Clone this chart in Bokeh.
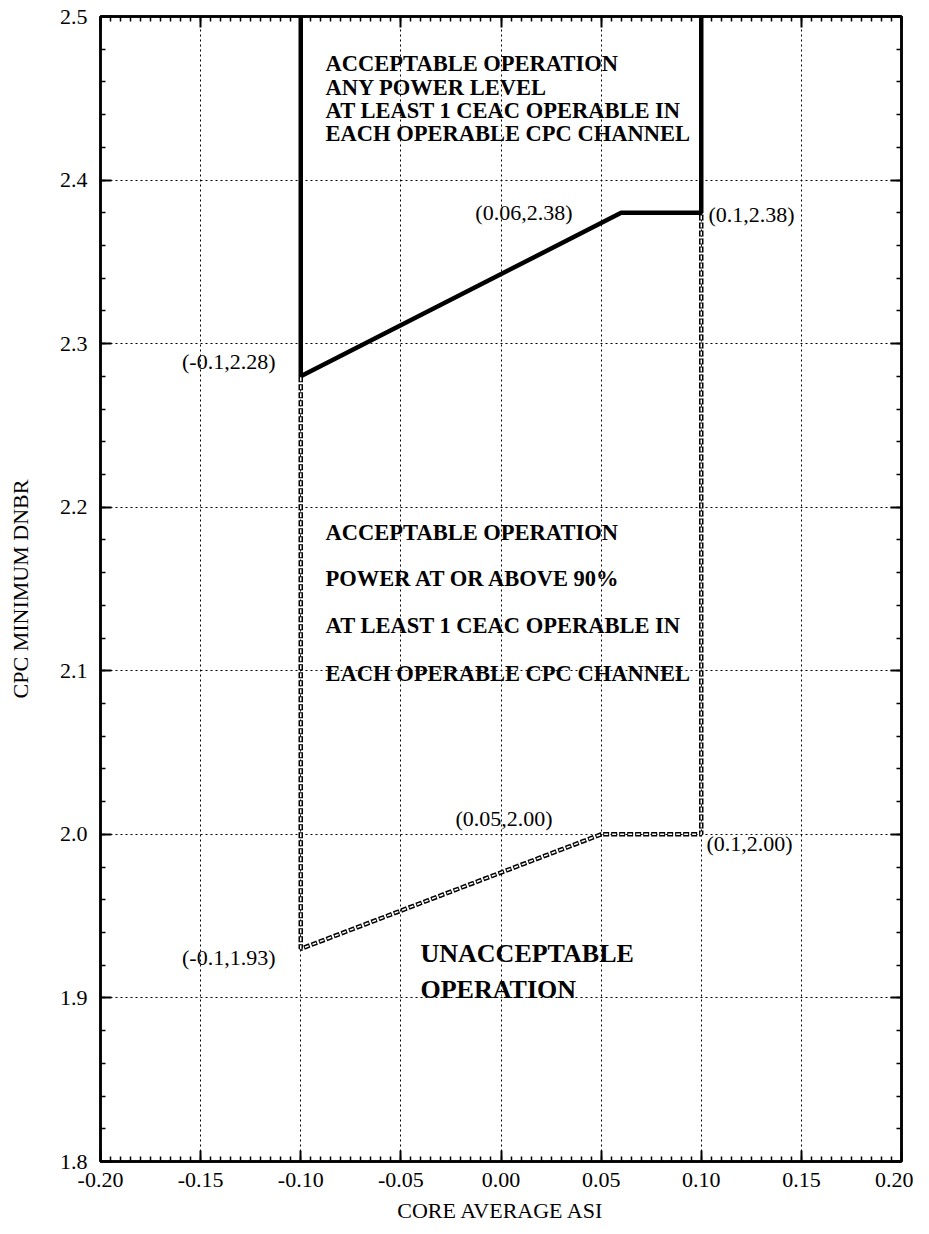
from bokeh.plotting import figure
from bokeh.models import (Range1d, LinearAxis, SingleIntervalTicker, NumeralTickFormatter,
                          CustomJSTickFormatter)
from bokeh.core.properties import value
from bokeh.embed import file_html
from bokeh.resources import INLINE

# ---- data ----
upper_asi = [-0.10, -0.10, 0.06, 0.10, 0.10]
upper_dnbr = [2.50, 2.28, 2.38, 2.38, 2.50]
lower_asi = [-0.10, -0.10, 0.05, 0.10, 0.10]
lower_dnbr = [2.28, 1.93, 2.00, 2.00, 2.38]

point_labels = ["(0.06,2.38)", "(0.1,2.38)", "(-0.1,2.28)",
                "(0.05,2.00)", "(0.1,2.00)", "(-0.1,1.93)"]
top_region_text = ["ACCEPTABLE OPERATION", "ANY POWER LEVEL",
                   "AT LEAST 1 CEAC OPERABLE IN", "EACH OPERABLE CPC CHANNEL"]
mid_region_text = ["ACCEPTABLE OPERATION", "POWER AT OR ABOVE 90%",
                   "AT LEAST 1 CEAC OPERABLE IN", "EACH OPERABLE CPC CHANNEL"]
bottom_region_text = ["UNACCEPTABLE", "OPERATION"]

# ---- annotation placement (data coords) ----
pl_x = [0.0357, 0.1036, -0.1126, -0.0227, 0.1026, -0.1126]
pl_y = [2.380, 2.379, 2.289, 2.0096, 1.9943, 1.925]
pl_align = ["right", "left", "right", "left", "left", "right"]
top_x = [-0.0876] * 4
top_y = [2.4713, 2.4566, 2.4425, 2.4285]
mid_x = [-0.0876] * 4
mid_y = [2.1845, 2.1564, 2.1277, 2.0983]
bot_x = [-0.0402, -0.0402]
bot_y = [1.9273, 1.9050]

FONT = "Liberation Serif"

p = figure(width=913, height=1226, x_range=Range1d(-0.2, 0.2), y_range=Range1d(1.8, 2.5),
           output_backend="svg", toolbar_location=None,
           min_border_left=100, min_border_right=12, min_border_top=16, min_border_bottom=65,
           x_axis_label="CORE AVERAGE ASI", y_axis_label="CPC MINIMUM DNBR")
p.background_fill_color = "white"
p.border_fill_color = "white"
p.outline_line_color = "black"
p.outline_line_width = 2.5

xt = SingleIntervalTicker(interval=0.05, num_minor_ticks=10)
yt = SingleIntervalTicker(interval=0.1, num_minor_ticks=5)


def style_axis(ax, ticker, labels=True):
    ax.ticker = ticker
    ax.axis_line_color = "black"
    ax.axis_line_width = 2.5
    ax.major_tick_in = 11
    ax.major_tick_out = 0
    ax.minor_tick_in = 5
    ax.minor_tick_out = 0
    ax.major_tick_line_width = 2
    ax.minor_tick_line_width = 1.5
    ax.major_tick_line_color = "black"
    ax.minor_tick_line_color = "black"
    ax.major_label_text_font = FONT
    ax.major_label_text_font_size = "22px"
    ax.major_label_text_color = "black"
    ax.axis_label_text_font = FONT
    ax.axis_label_text_font_style = "normal"
    ax.axis_label_text_font_size = "22px"
    ax.axis_label_text_color = "black"
    if not labels:
        ax.formatter = CustomJSTickFormatter(code="return ''")
        ax.major_label_standoff = 0
        ax.major_label_text_font_size = "1px"


style_axis(p.xaxis[0], xt)
p.xaxis[0].formatter = NumeralTickFormatter(format="0.00")
p.xaxis[0].major_label_standoff = 11
p.xaxis[0].axis_label_standoff = 8
style_axis(p.yaxis[0], yt)
p.yaxis[0].formatter = NumeralTickFormatter(format="0.0")
p.yaxis[0].major_label_standoff = 13
p.yaxis[0].axis_label_standoff = 24

top_ax = LinearAxis()
style_axis(top_ax, xt, labels=False)
p.add_layout(top_ax, "above")
right_ax = LinearAxis()
style_axis(right_ax, yt, labels=False)
p.add_layout(right_ax, "right")

for g in (p.xgrid[0], p.ygrid[0]):
    g.grid_line_color = "black"
    g.grid_line_width = 1
    g.grid_line_dash = "2 3"
p.xgrid[0].ticker = xt
p.ygrid[0].ticker = yt

# lines
p.line(upper_asi, upper_dnbr, line_color="black", line_width=4.5)
p.line(lower_asi, lower_dnbr, line_color="black", line_width=4.5, line_dash="6 2")
p.line(lower_asi, lower_dnbr, line_color="white", line_width=1.5, line_dash="4 4",
       line_dash_offset=7)

# texts
p.text(x=pl_x, y=pl_y, text=point_labels, text_align=pl_align, text_baseline="middle",
       text_font=value(FONT), text_font_size="22px", text_color="black")
p.text(x=top_x, y=top_y, text=top_region_text, text_align="left", text_baseline="middle",
       text_font=value(FONT), text_font_style="bold", text_font_size="22.5px", text_color="black")
p.text(x=mid_x, y=mid_y, text=mid_region_text, text_align="left", text_baseline="middle",
       text_font=value(FONT), text_font_style="bold", text_font_size="22.5px", text_color="black")
p.text(x=bot_x, y=bot_y, text=bottom_region_text, text_align="left", text_baseline="middle",
       text_font=value(FONT), text_font_style="bold", text_font_size="26px", text_color="black")

open("out.html", "w").write(file_html(p, INLINE))
